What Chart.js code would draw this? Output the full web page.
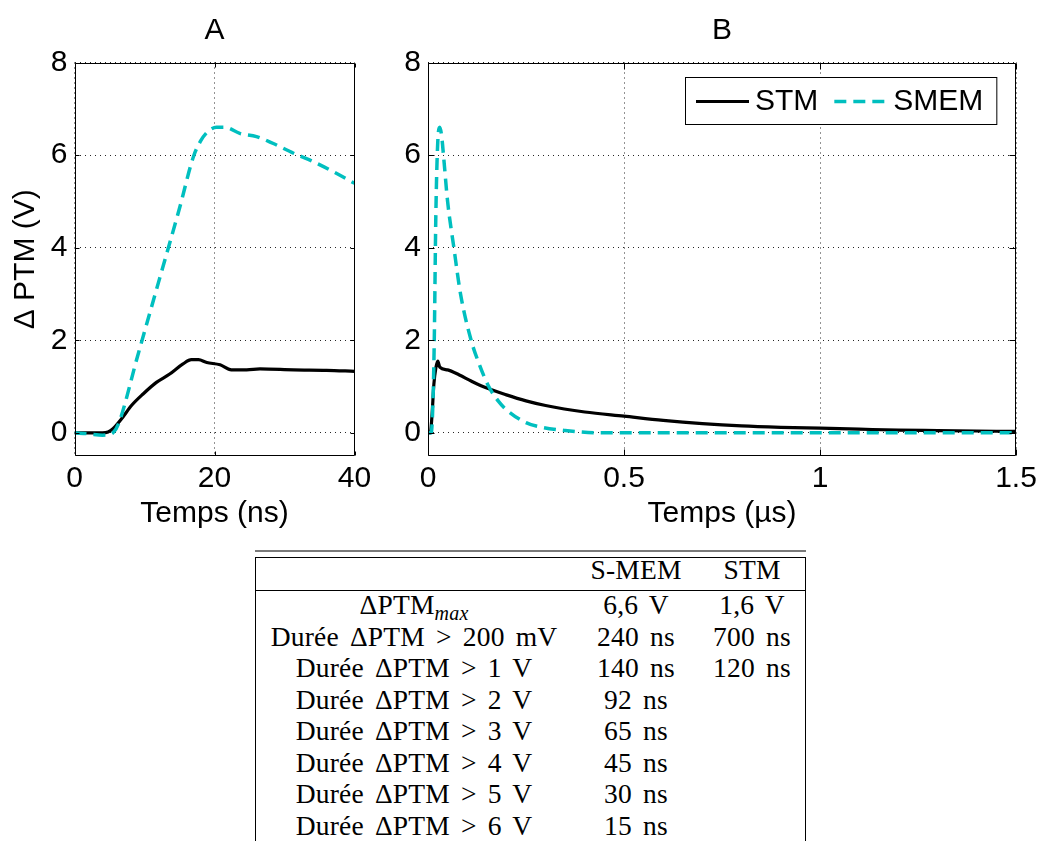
<!DOCTYPE html>
<html>
<head>
<meta charset="utf-8">
<script src="https://cdn.jsdelivr.net/npm/chart.js@4.4.1/dist/chart.umd.min.js"></script>
<style>
  html, body { margin:0; padding:0; background:#fff; width:1043px; height:841px; overflow:hidden; }
  #wa { position:absolute; left:0; top:0; width:385px; height:540px; }
  #wb { position:absolute; left:385px; top:0; width:658px; height:540px; }
  .rule { position:absolute; }
  .trow { position:absolute; left:255px; width:551px; height:32px; line-height:32px;
          font-family:"Liberation Serif", "DejaVu Serif", serif; font-size:27.5px; color:#000;
          letter-spacing:0.2px; word-spacing:4px; white-space:nowrap; }
  .cell { position:absolute; top:0; text-align:center; }
  .sub { font-style:italic; font-size:20px; position:relative; top:6px; }
</style>
</head>
<body>
<div id="wa"><canvas id="ca"></canvas></div>
<div id="wb"><canvas id="cb"></canvas></div>
<div id="tbl"></div>
<script>
// ---------------- data ----------------
const seriesNames = ['STM', 'SMEM'];
const panelTitles = ['A', 'B'];
const xTitleA = 'Temps (ns)';
const xTitleB = 'Temps (\u00b5s)';
const yTitle = '\u0394 PTM (V)';

const yTicks  = [0, 2, 4, 6, 8];
const yLabels = ['0', '2', '4', '6', '8'];
const xTicksA  = [0, 20, 40];
const xLabelsA = ['0', '20', '40'];
const xTicksB  = [0, 0.5, 1, 1.5];
const xLabelsB = ['0', '0.5', '1', '1.5'];

// Panel A (time in ns, ΔPTM in V)
const tA_stm = [0, 2, 4, 4.8, 5.5, 6.7, 8.2, 9.8, 11.7, 13.6, 15.5, 16.7, 17.7, 18.9, 20.8, 22.4, 24.6, 26.5, 31.3, 36, 40];
const vA_stm = [0, 0, 0, 0.02, 0.09, 0.30, 0.60, 0.84, 1.09, 1.27, 1.49, 1.58, 1.58, 1.52, 1.47, 1.36, 1.36, 1.38, 1.36, 1.35, 1.33];
const tA_smem = [0, 2, 4, 4.8, 5.5, 6.3, 9.0, 12.0, 15.0, 17.0, 18.0, 19.0, 20.3, 21.5, 23.6, 26.0, 28.4, 31.3, 34.1, 37.0, 40];
const vA_smem = [0, -0.02, -0.05, -0.04, 0.0, 0.2, 1.65, 3.25, 4.85, 5.97, 6.3, 6.5, 6.6, 6.6, 6.47, 6.4, 6.25, 6.04, 5.86, 5.64, 5.39];

// Panel B (time in µs, ΔPTM in V)
const tB_stm = [0, 0.006, 0.01, 0.015, 0.02, 0.025, 0.03, 0.05, 0.08, 0.11, 0.14, 0.2, 0.25, 0.3, 0.4, 0.5, 0.6, 0.7, 0.8, 0.9, 1.0, 1.1, 1.2, 1.3, 1.4, 1.5];
const vB_stm = [0, 0, 0.35, 1.05, 1.4, 1.55, 1.42, 1.36, 1.25, 1.12, 1.0, 0.82, 0.69, 0.59, 0.45, 0.36, 0.27, 0.2, 0.15, 0.12, 0.1, 0.08, 0.06, 0.05, 0.04, 0.03];
const tB_smem = [0, 0.008, 0.012, 0.016, 0.02, 0.025, 0.03, 0.035, 0.04, 0.05, 0.066, 0.083, 0.11, 0.13, 0.155, 0.18, 0.2, 0.25, 0.29, 0.35, 0.44, 0.6, 1.0, 1.5];
const vB_smem = [0, 0, 0.5, 2.0, 4.7, 6.3, 6.6, 6.4, 5.95, 5.0, 4.0, 3.0, 2.0, 1.5, 1.0, 0.68, 0.5, 0.22, 0.12, 0.05, 0.0, 0, 0, 0];

// Table
const tableHeader = ['', 'S-MEM', 'STM'];
const rowLabelMain = ['\u0394PTM', 'Dur\u00e9e \u0394PTM > 200 mV', 'Dur\u00e9e \u0394PTM > 1 V', 'Dur\u00e9e \u0394PTM > 2 V',
                      'Dur\u00e9e \u0394PTM > 3 V', 'Dur\u00e9e \u0394PTM > 4 V', 'Dur\u00e9e \u0394PTM > 5 V', 'Dur\u00e9e \u0394PTM > 6 V'];
const rowLabelSub  = ['max', '', '', '', '', '', '', ''];
const smemValues = ['6,6 V', '240 ns', '140 ns', '92 ns', '65 ns', '45 ns', '30 ns', '15 ns'];
const stmValues  = ['1,6 V', '700 ns', '120 ns', '', '', '', '', ''];

// ---------------- styles ----------------
const FONT = '"Liberation Sans", Arial, sans-serif';
const STM_COLOR = '#000000';
const SMEM_COLOR = 'rgb(0,191,191)';

function pts(xs, ys) { return xs.map((x, i) => ({ x: x, y: ys[i] })); }

const framePlugin = {
  id: 'frameTicks',
  afterDraw(chart, args, opts) {
    const ctx = chart.ctx, ca = chart.chartArea;
    const xs = chart.scales.x, ys = chart.scales.y;
    const L = opts.tickLen || 5;
    ctx.save();
    ctx.strokeStyle = '#000';
    ctx.lineWidth = 1;
    ctx.setLineDash([]);
    const l = Math.round(ca.left) + 0.5, r = Math.round(ca.right) - 0.5;
    const t = Math.round(ca.top) + 0.5, b = Math.round(ca.bottom) - 0.5;
    ctx.beginPath();
    ctx.rect(l, t, r - l, b - t);
    xs.ticks.forEach(tk => {
      const px = Math.round(xs.getPixelForValue(tk.value)) + 0.5;
      ctx.moveTo(px, b); ctx.lineTo(px, b - L);
      ctx.moveTo(px, t); ctx.lineTo(px, t + L);
    });
    ys.ticks.forEach(tk => {
      const py = Math.round(ys.getPixelForValue(tk.value)) + 0.5;
      ctx.moveTo(l, py); ctx.lineTo(l + L, py);
      ctx.moveTo(r, py); ctx.lineTo(r - L, py);
    });
    ctx.stroke();

    // legend box (inside the axes, top right)
    if (opts.legend) {
      const font = '30px ' + FONT;
      ctx.font = font;
      const sample = 53, gapAfterSample = 6, gapAfterText = 16, padL = 11, padR = 13, h = 47;
      let w = padL;
      chart.data.datasets.forEach((ds, i) => {
        w += sample + gapAfterSample + ctx.measureText(ds.label).width;
        if (i < chart.data.datasets.length - 1) w += gapAfterText;
      });
      w += padR;
      const x0 = Math.round(ca.right - 20 - w), y0 = Math.round(ca.top + 14);
      ctx.fillStyle = '#fff';
      ctx.fillRect(x0, y0, w, h);
      ctx.strokeStyle = '#000'; ctx.lineWidth = 1;
      ctx.strokeRect(x0 + 0.5, y0 + 0.5, w, h);
      const cy = y0 + h / 2 + 1;
      let x = x0 + padL;
      chart.data.datasets.forEach((ds) => {
        ctx.strokeStyle = ds.borderColor; ctx.lineWidth = ds.borderWidth;
        ctx.setLineDash(ds.borderDash || []);
        ctx.beginPath(); ctx.moveTo(x, cy); ctx.lineTo(x + sample, cy); ctx.stroke();
        ctx.setLineDash([]);
        x += sample + gapAfterSample;
        ctx.fillStyle = '#000'; ctx.textBaseline = 'middle'; ctx.textAlign = 'left';
        ctx.fillText(ds.label, x, cy);
        x += ctx.measureText(ds.label).width + gapAfterText;
      });
    }
    ctx.restore();
  }
};

function makeChart(canvasId, cfg) {
  return new Chart(document.getElementById(canvasId), {
    type: 'line',
    data: {
      datasets: [
        { label: seriesNames[0], data: pts(cfg.stmX, cfg.stmY), borderColor: STM_COLOR, backgroundColor: STM_COLOR,
          borderWidth: 3.2, pointRadius: 0, cubicInterpolationMode: 'monotone', order: 1, fill: false },
        { label: seriesNames[1], data: pts(cfg.smemX, cfg.smemY), borderColor: SMEM_COLOR, backgroundColor: SMEM_COLOR,
          borderWidth: 3.5, borderDash: [12, 7], pointRadius: 0, cubicInterpolationMode: 'monotone', order: 0, fill: false }
      ]
    },
    options: {
      responsive: true,
      maintainAspectRatio: false,
      animation: false,
      devicePixelRatio: 1,
      layout: { padding: { left: 0, right: cfg.padRight, top: 0, bottom: 0 } },
      plugins: {
        legend: { display: false },
        tooltip: { enabled: false },
        title: { display: true, text: cfg.title, fullSize: false, color: '#000',
                 font: { family: FONT, size: 30, weight: 'normal' }, padding: { top: 13, bottom: 13.5 } },
        frameTicks: { tickLen: cfg.tickLen, legend: cfg.legend }
      },
      scales: {
        x: {
          type: 'linear', min: cfg.xMin, max: cfg.xMax,
          afterBuildTicks: s => { s.ticks = cfg.xTicks.map(v => ({ value: v })); },
          afterFit: s => { s.height = 84; },
          ticks: { color: '#000', font: { family: FONT, size: 30 }, padding: 5, maxRotation: 0,
                   callback: (v, i) => cfg.xLabels[i] },
          grid: { color: 'rgba(0,0,0,0.85)', lineWidth: 1, drawTicks: false },
          border: { display: false, dash: [1, 4] },
          title: { display: true, text: cfg.xTitle, color: '#000', font: { family: FONT, size: 30 },
                   padding: { top: 0, bottom: 8 } }
        },
        y: {
          type: 'linear', min: -0.5, max: 8,
          afterBuildTicks: s => { s.ticks = yTicks.map(v => ({ value: v })); },
          afterFit: s => { s.width = cfg.yWidth; },
          ticks: { color: '#000', font: { family: FONT, size: 30 }, padding: 7,
                   callback: (v, i) => yLabels[i] },
          grid: { color: 'rgba(0,0,0,0.85)', lineWidth: 1, drawTicks: false },
          border: { display: false, dash: [1, 4] },
          title: { display: !!cfg.yTitle, text: cfg.yTitle || '', color: '#000', font: { family: FONT, size: 30 },
                   padding: { top: 8, bottom: 0 } }
        }
      }
    },
    plugins: [framePlugin]
  });
}

makeChart('ca', {
  title: panelTitles[0], xTitle: xTitleA, yTitle: yTitle,
  stmX: tA_stm, stmY: vA_stm, smemX: tA_smem, smemY: vA_smem,
  xMin: 0, xMax: 40, xTicks: xTicksA, xLabels: xLabelsA,
  yWidth: 74.5, padRight: 30.5, tickLen: 4, legend: false
});

makeChart('cb', {
  title: panelTitles[1], xTitle: xTitleB, yTitle: null,
  stmX: tB_stm, stmY: vB_stm, smemX: tB_smem, smemY: vB_smem,
  xMin: 0, xMax: 1.5, xTicks: xTicksB, xLabels: xLabelsB,
  yWidth: 43, padRight: 27, tickLen: 6, legend: true
});

// ---------------- table ----------------
(function buildTable() {
  const root = document.getElementById('tbl');
  function rule(l, t, w, h, c) {
    const d = document.createElement('div');
    d.className = 'rule';
    d.style.cssText = `left:${l}px;top:${t}px;width:${w}px;height:${h}px;background:${c};`;
    root.appendChild(d);
  }
  const L = 255, W = 551;
  rule(L, 550, W, 2, '#7a7a7a');           // top gray rule
  rule(L, 557, W, 1, '#000');              // box top
  rule(L, 557, 1, 290, '#000');            // box left
  rule(L + W - 1, 557, 1, 290, '#000');    // box right
  rule(L, 590, W, 1, '#000');              // header separator

  const cols = [{ left: 0, width: 318 }, { left: 321, width: 120 }, { left: 443, width: 108 }];
  function row(baseline, cells) {
    const r = document.createElement('div');
    r.className = 'trow';
    r.style.top = (baseline - 25.3) + 'px';
    cells.forEach((c, i) => {
      const s = document.createElement('div');
      s.className = 'cell';
      s.style.left = cols[i].left + 'px';
      s.style.width = cols[i].width + 'px';
      if (typeof c === 'string') s.textContent = c; else s.appendChild(c);
      r.appendChild(s);
    });
    root.appendChild(r);
  }
  row(579.5, tableHeader);
  rowLabelMain.forEach((lab, i) => {
    let first;
    if (rowLabelSub[i]) {
      first = document.createElement('span');
      first.appendChild(document.createTextNode(lab));
      const sb = document.createElement('span');
      sb.className = 'sub';
      sb.textContent = rowLabelSub[i];
      first.appendChild(sb);
    } else {
      first = lab;
    }
    row(614.7 + 31.5 * i, [first, smemValues[i], stmValues[i]]);
  });
})();
</script>
</body>
</html>
